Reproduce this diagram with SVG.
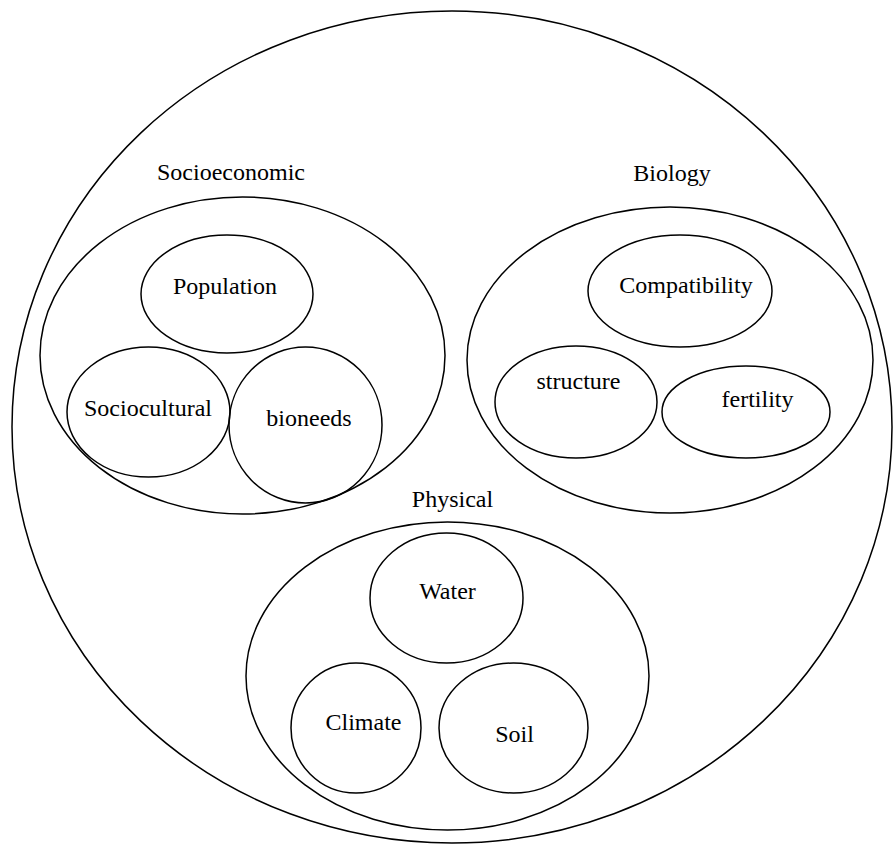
<svg xmlns="http://www.w3.org/2000/svg" width="895" height="846" viewBox="0 0 895 846">
<style>
.s{fill:none;stroke:#000;stroke-width:1.5}
.t{font-family:"Liberation Serif","Times New Roman",serif;font-size:24px;fill:#000;text-anchor:middle}
</style>
<rect width="895" height="846" fill="#fff"/>
<g id="outer"><ellipse class="s" cx="452" cy="427" rx="440" ry="416"/></g>
<g id="socioeconomic">
<text class="t" x="231" y="180">Socioeconomic</text>
<ellipse class="s" cx="242.5" cy="355.5" rx="202.5" ry="158.5"/>
</g>
<g id="population"><ellipse class="s" cx="227" cy="294" rx="86" ry="59"/><text class="t" x="225" y="294">Population</text></g>
<g id="sociocultural"><ellipse class="s" cx="148.5" cy="412" rx="81.5" ry="65"/><text class="t" x="148" y="416">Sociocultural</text></g>
<g id="bioneeds"><ellipse class="s" cx="305.5" cy="425" rx="76.5" ry="78"/><text class="t" x="309" y="426">bioneeds</text></g>
<g id="biology">
<text class="t" x="672" y="181">Biology</text>
<ellipse class="s" cx="670" cy="360" rx="203" ry="153"/>
</g>
<g id="compatibility"><ellipse class="s" cx="680" cy="291" rx="92" ry="56"/><text class="t" x="686" y="293">Compatibility</text></g>
<g id="structure"><ellipse class="s" cx="576" cy="402" rx="81" ry="56"/><text class="t" x="578.5" y="389">structure</text></g>
<g id="fertility"><ellipse class="s" cx="746" cy="412" rx="84" ry="46"/><text class="t" x="757.5" y="407">fertility</text></g>
<g id="physical">
<text class="t" x="452.5" y="507">Physical</text>
<ellipse class="s" cx="447.5" cy="676" rx="201.5" ry="154"/>
</g>
<g id="water"><ellipse class="s" cx="446.5" cy="598" rx="76.5" ry="65"/><text class="t" x="447.5" y="599">Water</text></g>
<g id="climate"><ellipse class="s" cx="356" cy="728" rx="65" ry="65"/><text class="t" x="363.5" y="730">Climate</text></g>
<g id="soil"><ellipse class="s" cx="513.5" cy="728" rx="74.5" ry="65"/><text class="t" x="514.5" y="742">Soil</text></g>
</svg>
